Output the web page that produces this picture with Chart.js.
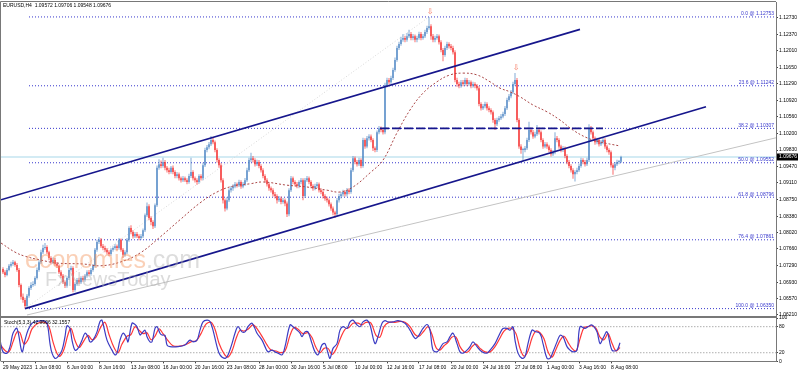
<!DOCTYPE html>
<html>
<head>
<meta charset="utf-8">
<script src="https://cdn.jsdelivr.net/npm/chart.js@4.4.0/dist/chart.umd.min.js"></script>
<style>
  html, body { margin: 0; padding: 0; background: #fff; }
  #wrap { position: relative; width: 798px; height: 372px; overflow: hidden; font-family: "Liberation Sans", Arial, sans-serif; }
  canvas { position: absolute; left: 0; }
  #mainChart { top: 0; }
  #stochChart { top: 310px; }
  .tiny { position: absolute; font-size: 10px; line-height: 10px; color: #000; white-space: pre; transform: scale(0.5); transform-origin: 0 0; }
  .wm { position: absolute; white-space: pre; pointer-events: none; }
</style>
</head>
<body>
<div id="wrap">
  <canvas id="mainChart" width="798" height="318"></canvas>
  <canvas id="stochChart" width="798" height="62"></canvas>
  <div class="tiny" id="header" style="left:3px;top:3px;">EURUSD,H4  1.09572 1.09706 1.09548 1.09676</div>
  <div class="tiny" id="stochTitle" style="left:4px;top:320px;">Stoch(5,3,3) 42.9606 32.1557</div>
  <div class="wm" style="left:25px;top:247px;font-size:25px;line-height:25px;"><span style="color:rgba(245,150,95,0.45)">economies</span><span style="color:rgba(180,180,180,0.45)">.com</span></div>
  <div class="wm" style="left:45px;top:269px;font-size:20px;line-height:20px;color:rgba(175,175,175,0.45)">FxNewsToday</div>
</div>
<script>
// ================= DATA =================
// EURUSD H4 candles, 29 May 2023 -> 9 Aug 2023 (open = previous close)
const firstOpen = 1.0722;

const closes = [
  1.0715, 1.0709, 1.0720, 1.0729, 1.0733, 1.0737, 1.0731, 1.0720, 1.0687, 1.0661,
  1.0654, 1.0641, 1.0663, 1.0680, 1.0687, 1.0689, 1.0702, 1.0720, 1.0737, 1.0759,
  1.0768, 1.0770, 1.0759, 1.0746, 1.0737, 1.0742, 1.0733, 1.0729, 1.0715, 1.0707,
  1.0693, 1.0685, 1.0702, 1.0720, 1.0724, 1.0676, 1.0689, 1.0698, 1.0693, 1.0702,
  1.0698, 1.0707, 1.0715, 1.0711, 1.0720, 1.0729, 1.0764, 1.0781, 1.0786, 1.0772,
  1.0768, 1.0764, 1.0759, 1.0755, 1.0764, 1.0768, 1.0772, 1.0768, 1.0786, 1.0764,
  1.0753, 1.0759, 1.0786, 1.0812, 1.0803, 1.0794, 1.0799, 1.0794, 1.0790, 1.0794,
  1.0807, 1.0840, 1.0860, 1.0834, 1.0825, 1.0816, 1.0862, 1.0944, 1.0952, 1.0948,
  1.0957, 1.0944, 1.0939, 1.0935, 1.0944, 1.0935, 1.0926, 1.0930, 1.0921, 1.0917,
  1.0921, 1.0917, 1.0913, 1.0926, 1.0935, 1.0921, 1.0917, 1.0913, 1.0926, 1.0921,
  1.0950, 1.0983, 1.0989, 1.0996, 1.1005, 1.1000, 1.0983, 1.0961, 1.0950, 1.0917,
  1.0873, 1.0855, 1.0873, 1.0895, 1.0899, 1.0903, 1.0908, 1.0906, 1.0913, 1.0903,
  1.0908, 1.0917, 1.0939, 1.0961, 1.0965, 1.0961, 1.0952, 1.0957, 1.0948, 1.0939,
  1.0926, 1.0917, 1.0908, 1.0899, 1.0895, 1.0886, 1.0882, 1.0873, 1.0877, 1.0869,
  1.0873, 1.0866, 1.0842, 1.0895, 1.0921, 1.0913, 1.0908, 1.0904, 1.0913, 1.0917,
  1.0882, 1.0917, 1.0921, 1.0913, 1.0904, 1.0899, 1.0904, 1.0908, 1.0895, 1.0891,
  1.0882, 1.0877, 1.0873, 1.0864, 1.0855, 1.0846, 1.0842, 1.0873, 1.0882, 1.0886,
  1.0891, 1.0886, 1.0895, 1.0891, 1.0939, 1.0965, 1.0957, 1.0952, 1.0961, 1.0948,
  1.1005, 1.0991, 1.1009, 1.1013, 1.1005, 1.0987, 1.0983, 1.1022, 1.1031, 1.1027,
  1.1022, 1.1126, 1.1137, 1.1132, 1.1141, 1.1159, 1.1181, 1.1207, 1.1216, 1.1225,
  1.1229, 1.1225, 1.1233, 1.1238, 1.1229, 1.1233, 1.1225, 1.1229, 1.1238, 1.1229,
  1.1233, 1.1242, 1.1251, 1.1255, 1.1233, 1.1225, 1.1229, 1.1233, 1.1220, 1.1203,
  1.1192, 1.1207, 1.1216, 1.1211, 1.1207, 1.1198, 1.1137, 1.1128, 1.1124, 1.1132,
  1.1128, 1.1137, 1.1128, 1.1132, 1.1124, 1.1128, 1.1124, 1.1119, 1.1084, 1.1075,
  1.1079, 1.1084, 1.1075, 1.1071, 1.1066, 1.1049, 1.1040, 1.1049, 1.1053, 1.1057,
  1.1062, 1.1075, 1.1093, 1.1101, 1.1110, 1.1128, 1.1137, 1.1049, 1.0991, 1.0983,
  1.0983, 1.0987, 1.1005, 1.1027, 1.1022, 1.1013, 1.1018, 1.1027, 1.1022, 1.1005,
  1.0991, 1.0996, 1.0991, 1.0983, 1.0974, 1.0978, 1.1009, 1.1005, 1.0991, 1.0983,
  1.0987, 1.0970, 1.0957, 1.0948, 1.0939, 1.0930, 1.0935, 1.0939, 1.0948, 1.0961,
  1.0957, 1.0952, 1.0961, 1.1031, 1.1022, 1.1009, 1.1000, 1.1005, 1.0996, 1.1000,
  1.1005, 1.0991, 1.0983, 1.0978, 1.0950, 1.0944, 1.0952, 1.0957, 1.09572, 1.09676
];

const highs = [
  1.0726, 1.0719, 1.0724, 1.0733, 1.0738, 1.0742, 1.0740, 1.0735, 1.0724, 1.0690,
  1.0668, 1.0659, 1.0667, 1.0684, 1.0693, 1.0695, 1.0706, 1.0725, 1.0741, 1.0764,
  1.0775, 1.0779, 1.0774, 1.0762, 1.0750, 1.0747, 1.0746, 1.0737, 1.0732, 1.0719,
  1.0711, 1.0697, 1.0706, 1.0724, 1.0729, 1.0728, 1.0693, 1.0702, 1.0703, 1.0706,
  1.0707, 1.0711, 1.0719, 1.0720, 1.0724, 1.0733, 1.0768, 1.0786, 1.0792, 1.0790,
  1.0777, 1.0773, 1.0768, 1.0763, 1.0768, 1.0772, 1.0777, 1.0776, 1.0790, 1.0789,
  1.0768, 1.0763, 1.0790, 1.0816, 1.0818, 1.0807, 1.0803, 1.0803, 1.0798, 1.0799,
  1.0811, 1.0844, 1.0868, 1.0864, 1.0838, 1.0829, 1.0866, 1.0949, 1.0963, 1.0960,
  1.0966, 1.0961, 1.0948, 1.0944, 1.0948, 1.0949, 1.0939, 1.0935, 1.0934, 1.0925,
  1.0926, 1.0925, 1.0921, 1.0931, 1.0966, 1.0939, 1.0925, 1.0921, 1.0930, 1.0930,
  1.0955, 1.0988, 1.0994, 1.1001, 1.1014, 1.1012, 1.1004, 1.0987, 1.0965, 1.0954,
  1.0921, 1.0877, 1.0880, 1.0899, 1.0904, 1.0908, 1.0913, 1.0912, 1.0918, 1.0917,
  1.0913, 1.0922, 1.0944, 1.0966, 1.0977, 1.0970, 1.0965, 1.0962, 1.0961, 1.0952,
  1.0943, 1.0930, 1.0921, 1.0912, 1.0903, 1.0899, 1.0891, 1.0886, 1.0882, 1.0881,
  1.0878, 1.0877, 1.0870, 1.0899, 1.0926, 1.0925, 1.0917, 1.0913, 1.0917, 1.0922,
  1.0921, 1.0922, 1.0926, 1.0925, 1.0917, 1.0908, 1.0909, 1.0913, 1.0912, 1.0899,
  1.0895, 1.0886, 1.0881, 1.0877, 1.0868, 1.0859, 1.0850, 1.0878, 1.0887, 1.0891,
  1.0896, 1.0895, 1.0900, 1.0899, 1.0944, 1.0970, 1.0969, 1.0961, 1.0966, 1.0965,
  1.1010, 1.1009, 1.1014, 1.1018, 1.1017, 1.1009, 1.0991, 1.1026, 1.1036, 1.1035,
  1.1031, 1.1131, 1.1142, 1.1141, 1.1146, 1.1164, 1.1186, 1.1212, 1.1221, 1.1232,
  1.1238, 1.1234, 1.1240, 1.1247, 1.1242, 1.1238, 1.1237, 1.1234, 1.1243, 1.1242,
  1.1238, 1.1247, 1.1256, 1.12753, 1.1259, 1.1238, 1.1234, 1.1238, 1.1237, 1.1224,
  1.1207, 1.1212, 1.1221, 1.1220, 1.1216, 1.1212, 1.1202, 1.1142, 1.1133, 1.1137,
  1.1137, 1.1142, 1.1141, 1.1137, 1.1136, 1.1133, 1.1132, 1.1128, 1.1123, 1.1088,
  1.1084, 1.1089, 1.1088, 1.1079, 1.1075, 1.1070, 1.1053, 1.1054, 1.1058, 1.1062,
  1.1067, 1.1080, 1.1098, 1.1106, 1.1115, 1.1133, 1.1152, 1.1141, 1.1053, 1.0996,
  1.0988, 1.0992, 1.1010, 1.1045, 1.1032, 1.1027, 1.1023, 1.1038, 1.1032, 1.1026,
  1.1009, 1.1001, 1.1000, 1.0995, 1.0987, 1.0983, 1.1022, 1.1014, 1.1009, 1.0995,
  1.0992, 1.0991, 1.0974, 1.0961, 1.0952, 1.0943, 1.0939, 1.0944, 1.0953, 1.0966,
  1.0965, 1.0961, 1.0966, 1.1040, 1.1036, 1.1026, 1.1013, 1.1010, 1.1009, 1.1005,
  1.1010, 1.1009, 1.0995, 1.0987, 1.0982, 1.0954, 1.0957, 1.0962, 1.0961, 1.09706
];

const lows = [
  1.0711, 1.0704, 1.0706, 1.0717, 1.0725, 1.0729, 1.0727, 1.0716, 1.0682, 1.0655,
  1.0648, 1.0635, 1.0638, 1.0659, 1.0676, 1.0683, 1.0685, 1.0699, 1.0716, 1.0733,
  1.0755, 1.0764, 1.0755, 1.0741, 1.0732, 1.0733, 1.0729, 1.0724, 1.0711, 1.0702,
  1.0689, 1.0680, 1.0681, 1.0698, 1.0716, 1.0671, 1.0672, 1.0685, 1.0689, 1.0689,
  1.0694, 1.0694, 1.0703, 1.0707, 1.0707, 1.0716, 1.0725, 1.0760, 1.0777, 1.0768,
  1.0763, 1.0759, 1.0754, 1.0750, 1.0751, 1.0760, 1.0764, 1.0763, 1.0764, 1.0760,
  1.0746, 1.0749, 1.0755, 1.0782, 1.0798, 1.0789, 1.0790, 1.0790, 1.0785, 1.0786,
  1.0790, 1.0803, 1.0836, 1.0829, 1.0818, 1.0810, 1.0812, 1.0858, 1.0940, 1.0943,
  1.0944, 1.0939, 1.0934, 1.0930, 1.0931, 1.0930, 1.0921, 1.0921, 1.0916, 1.0912,
  1.0913, 1.0913, 1.0908, 1.0909, 1.0922, 1.0916, 1.0912, 1.0907, 1.0909, 1.0916,
  1.0917, 1.0946, 1.0978, 1.0985, 1.0992, 1.0996, 1.0978, 1.0956, 1.0944, 1.0912,
  1.0866, 1.0848, 1.0851, 1.0869, 1.0890, 1.0894, 1.0899, 1.0901, 1.0902, 1.0898,
  1.0899, 1.0904, 1.0913, 1.0935, 1.0957, 1.0956, 1.0947, 1.0948, 1.0943, 1.0934,
  1.0921, 1.0912, 1.0903, 1.0894, 1.0890, 1.0881, 1.0877, 1.0866, 1.0869, 1.0864,
  1.0865, 1.0860, 1.0836, 1.0838, 1.0891, 1.0908, 1.0903, 1.0899, 1.0899, 1.0908,
  1.0873, 1.0878, 1.0913, 1.0908, 1.0899, 1.0894, 1.0895, 1.0899, 1.0890, 1.0886,
  1.0877, 1.0872, 1.0868, 1.0859, 1.0850, 1.0840, 1.0834, 1.0838, 1.0868, 1.0877,
  1.0881, 1.0881, 1.0881, 1.0886, 1.0887, 1.0935, 1.0952, 1.0947, 1.0948, 1.0943,
  1.0944, 1.0986, 1.0987, 1.1004, 1.1000, 1.0981, 1.0978, 1.0979, 1.1018, 1.1022,
  1.1017, 1.1018, 1.1121, 1.1127, 1.1128, 1.1137, 1.1155, 1.1177, 1.1203, 1.1212,
  1.1221, 1.1220, 1.1221, 1.1229, 1.1224, 1.1224, 1.1220, 1.1220, 1.1225, 1.1224,
  1.1225, 1.1229, 1.1238, 1.1247, 1.1225, 1.1220, 1.1220, 1.1225, 1.1215, 1.1198,
  1.1178, 1.1188, 1.1203, 1.1206, 1.1202, 1.1193, 1.1132, 1.1122, 1.1119, 1.1120,
  1.1123, 1.1124, 1.1123, 1.1124, 1.1119, 1.1120, 1.1119, 1.1114, 1.1079, 1.1070,
  1.1071, 1.1075, 1.1070, 1.1066, 1.1061, 1.1043, 1.1027, 1.1036, 1.1045, 1.1049,
  1.1053, 1.1058, 1.1071, 1.1089, 1.1097, 1.1106, 1.1124, 1.1044, 1.0986, 1.0975,
  1.0959, 1.0978, 1.0983, 1.1001, 1.1017, 1.1008, 1.1009, 1.1014, 1.1017, 1.1000,
  1.0986, 1.0987, 1.0986, 1.0978, 1.0969, 1.0970, 1.0974, 1.1000, 1.0986, 1.0978,
  1.0979, 1.0965, 1.0952, 1.0943, 1.0934, 1.0920, 1.0914, 1.0930, 1.0935, 1.0944,
  1.0952, 1.0947, 1.0948, 1.0957, 1.1017, 1.1004, 1.0995, 1.0996, 1.0991, 1.0992,
  1.0996, 1.0986, 1.0978, 1.0973, 1.0945, 1.0929, 1.0939, 1.0948, 1.0952, 1.09548
];

// dotted moving average (bar index / value)
const maBars = [
  -1, 6, 11, 18.5, 27, 40, 48.5, 58.5, 68.5, 78.5,
  88.5, 98.5, 107, 115, 123.5, 130, 142, 152, 162, 168.5,
  175, 183.5, 190, 197, 203.5, 210, 217, 223.5, 230, 237,
  243.5, 248.5, 253.5, 258.5, 265, 272, 278.5, 285, 292, 298.5,
  308.5
];
const maValues = [
  1.0779, 1.0759, 1.0750, 1.0742, 1.0735, 1.0733, 1.0729, 1.0737, 1.0757, 1.0792,
  1.0830, 1.0867, 1.0891, 1.0904, 1.0909, 1.0913, 1.0906, 1.0902, 1.0895, 1.0891,
  1.0902, 1.0933, 1.0961, 1.1021, 1.1071, 1.1108, 1.1133, 1.1148, 1.1152, 1.1148,
  1.1133, 1.1119, 1.1111, 1.1100, 1.1082, 1.1067, 1.1049, 1.1027, 1.1010, 1.1001,
  1.0992
];

// fibonacci retracement
const fibPct = ['0.0', '23.6', '38.2', '50.0', '61.8', '76.4', '100.0'];
const fibPrice = [1.12753, 1.11242, 1.10307, 1.09552, 1.08796, 1.07861, 1.06350];
const fibStartBar = 13;

// drawn lines: [startBar, endBar] / [startPrice, endPrice]
const upperChannelBars = [-1, 288.5],  upperChannelPrices = [1.0874, 1.1248];
const lowerChannelBars = [11, 351.5],  lowerChannelPrices = [1.0635, 1.1078];
const supportBars = [12, 386.5],       supportPrices = [1.0621, 1.1010];
const fibDiagBars = [11, 213],         fibDiagPrices = [1.0635, 1.12753];
const resistBars = [188.5, 300],       resistPrice = 1.10307;

// swing high markers
const peakBars = [213, 256];

// stochastic (5,3,3)
const kBars = [
  -1.5, 0, 2, 3.5, 5, 7, 9.5, 11, 12.5, 14.5,
  17, 20, 22, 23.5, 24.5, 26, 27.5, 29.5, 31, 32,
  33.5, 34.5, 36, 37.5, 39.5, 41, 42.5, 43.5, 45, 47,
  48.5, 49.5, 52, 54.5, 56, 57, 58.5, 60, 61.5, 62.5,
  64.5, 66, 67, 68.5, 69.5, 71, 72, 73.5, 74.5, 76,
  77, 78.5, 79.5, 81, 82, 83.5, 87.5, 91, 93.5, 95,
  97, 98.5, 100, 102, 103.5, 105, 107, 108.5, 111, 112.5,
  114.5, 116, 117.5, 119.5, 121, 122.5, 124.5, 127, 129.5, 131,
  132.5, 134.5, 136, 137.5, 139.5, 141, 143.5, 145, 147, 148.5,
  149.5, 151, 152.5, 154.5, 156, 157.5, 159.5, 161, 162.5, 163.5,
  165, 167, 168.5, 170, 172, 173.5, 175, 177, 178.5, 180,
  182, 183.5, 186, 187.5, 189.5, 191, 192.5, 195, 197.5, 201,
  203.5, 206, 207.5, 210, 212, 213.5, 215, 217, 218.5, 220,
  222, 223.5, 225, 227, 228.5, 230, 232, 233.5, 235, 237,
  239.5, 242, 243.5, 246, 248.5, 250, 252, 253.5, 255, 256,
  257.5, 259.5, 261, 262.5, 264.5, 266, 268.5, 270, 272, 273.5,
  275, 277, 278.5, 280, 282, 283.5, 285, 287, 288.5, 291,
  292.5, 294.5, 297, 298.5, 300, 302, 304.5, 307, 308.5
];
const kValues = [
  49, 22, 19, 34, 65, 76, 22, 49, 72, 88,
  92, 94, 88, 41, 19, 7, 11, 26, 57, 82,
  76, 49, 26, 30, 49, 65, 57, 45, 49, 68,
  92, 95, 49, 26, 15, 19, 49, 65, 57, 45,
  88, 85, 80, 61, 65, 72, 57, 45, 45, 76,
  80, 65, 61, 60, 38, 34, 34, 38, 49, 45,
  49, 72, 91, 95, 92, 72, 34, 15, 7, 15,
  41, 65, 80, 68, 68, 80, 88, 65, 49, 34,
  22, 26, 22, 19, 15, 34, 84, 80, 72, 65,
  57, 68, 68, 41, 22, 15, 38, 41, 19, 7,
  30, 41, 72, 80, 76, 91, 95, 84, 80, 91,
  95, 84, 41, 57, 88, 94, 91, 91, 94, 88,
  72, 53, 57, 76, 85, 72, 26, 22, 30, 41,
  45, 57, 65, 41, 22, 19, 26, 34, 45, 34,
  22, 19, 26, 41, 65, 76, 76, 72, 80, 49,
  19, 7, 11, 41, 72, 69, 64, 41, 7, 7,
  22, 45, 60, 57, 34, 26, 22, 26, 80, 76,
  80, 84, 68, 41, 53, 68, 26, 26, 43
];
const dBars = [
  -1.5, 1, 3, 5, 7, 8.5, 10.5, 12.5, 14.5, 17.5,
  21, 23, 25, 27, 28.5, 30.5, 32.5, 34, 36, 38,
  40.5, 42.5, 44.5, 46.5, 49, 51, 53, 55.5, 57.5, 59.5,
  62, 64, 66, 68, 70, 72, 74, 76, 78, 80,
  82.5, 85, 88.5, 92, 94.5, 96.5, 99, 101.5, 104, 106,
  108, 110.5, 112.5, 114.5, 116.5, 118.5, 120.5, 122.5, 125, 127.5,
  130, 132, 134, 136.5, 138.5, 141, 143.5, 145.5, 147.5, 150,
  152.5, 154.5, 156.5, 158.5, 160.5, 162.5, 164.5, 166.5, 169, 171,
  173, 175, 177.5, 179.5, 181.5, 184, 186.5, 188.5, 190.5, 193,
  196, 198.5, 201, 203.5, 206, 208, 210.5, 212.5, 214.5, 216.5,
  218.5, 220.5, 222.5, 224.5, 226.5, 228.5, 230.5, 232.5, 234.5, 236.5,
  238.5, 241, 243.5, 246, 248.5, 250.5, 252.5, 254.5, 256.5, 258.5,
  260.5, 262.5, 264.5, 266.5, 268.5, 270.5, 272.5, 274.5, 276.5, 278.5,
  280.5, 282.5, 284.5, 286.5, 288.5, 290.5, 292.5, 294.5, 296.5, 298.5,
  300.5, 302.5, 304.5, 306.5, 308.5
];
const dValues = [
  40, 25, 22, 45, 68, 66, 40, 50, 75, 88,
  90, 80, 45, 18, 12, 28, 62, 76, 48, 32,
  48, 60, 50, 56, 80, 90, 62, 32, 20, 40,
  58, 62, 80, 72, 64, 66, 50, 58, 75, 64,
  48, 36, 35, 40, 46, 47, 64, 86, 90, 74,
  42, 18, 10, 24, 52, 72, 70, 74, 84, 72,
  54, 38, 26, 24, 20, 24, 60, 78, 74, 64,
  66, 55, 32, 20, 30, 30, 16, 28, 56, 74,
  78, 88, 88, 84, 90, 88, 60, 56, 80, 90,
  90, 92, 90, 80, 62, 58, 70, 80, 62, 32,
  26, 36, 44, 56, 56, 34, 22, 22, 34, 40,
  30, 22, 22, 34, 54, 70, 76, 76, 64, 30,
  12, 24, 54, 70, 66, 52, 22, 10, 28, 48,
  58, 44, 30, 24, 52, 78, 80, 82, 76, 56,
  50, 64, 42, 24, 32
];
const stochLevels = [20, 80];
const stochTicks = [0, 20, 80, 100];

// axes
const priceTicks = [1.12730, 1.12370, 1.12010, 1.11650, 1.11290, 1.10920, 1.10560, 1.10200, 1.09830, 1.09470,
                    1.09110, 1.08750, 1.08380, 1.08020, 1.07660, 1.07290, 1.06930, 1.06570, 1.06210];
const timeTickBars = [0, 16, 32, 48, 64, 80, 96, 112, 128, 144, 160, 176, 192, 208, 224, 240, 256, 272, 288, 304];
const timeLabels = ['29 May 2023', '1 Jun 08:00', '6 Jun 00:00', '8 Jun 16:00', '13 Jun 08:00', '16 Jun 00:00',
                    '20 Jun 16:00', '23 Jun 08:00', '28 Jun 00:00', '30 Jun 16:00', '5 Jul 08:00', '10 Jul 00:00',
                    '12 Jul 16:00', '17 Jul 08:00', '20 Jul 00:00', '24 Jul 16:00', '27 Jul 08:00', '1 Aug 00:00',
                    '3 Aug 16:00', '8 Aug 08:00'];

// ================= SETUP =================
if (highs.length !== closes.length || lows.length !== closes.length) throw new Error('candle arrays ' + closes.length + '/' + highs.length + '/' + lows.length);
if (kBars.length !== kValues.length || dBars.length !== dValues.length || maBars.length !== maValues.length) throw new Error('series length mismatch');

const X_MIN = -1, X_MAX = 386.5;
const Y_MIN = 1.06188, Y_MAX = 1.13081;
const BULL = 'rgb(78,134,196)';
const BEAR = 'rgb(245,45,45)';
const FIB_BLUE = 'rgb(55,55,205)';
const NAVY = 'rgb(22,22,140)';
const FRAME = 'rgb(120,120,120)';
const FONT = '"Liberation Sans", Arial, sans-serif';
const lastClose = closes[closes.length - 1];

Chart.defaults.font.family = FONT;
Chart.defaults.font.size = 5;
Chart.defaults.color = '#000';
Chart.defaults.animation = false;

const opens = closes.map((c, i) => i === 0 ? firstOpen : closes[i - 1]);
const colors = closes.map((c, i) => c >= opens[i] ? BULL : BEAR);
const pairs = (xs, ys) => xs.map((x, i) => ({ x: x, y: Array.isArray(ys) ? ys[i] : ys }));

function lineDs(pts, color, width, dash, order, tension) {
  return {
    type: 'line', data: pts, borderColor: color, borderWidth: width, borderDash: dash || [],
    pointRadius: 0, fill: false, tension: tension || 0, order: order
  };
}

function noPad(s) { s.paddingTop = 0; s.paddingBottom = 0; s.paddingLeft = 0; s.paddingRight = 0; }

// ================= MAIN CHART =================
const mainDatasets = [];
fibPrice.forEach(p => mainDatasets.push(lineDs(pairs([fibStartBar, X_MAX], p), FIB_BLUE, 1, [1, 2], 20)));
mainDatasets.push(lineDs(pairs([X_MIN, X_MAX], lastClose), 'rgb(196,229,240)', 1.5, [], 19));
mainDatasets.push(lineDs(pairs(supportBars, supportPrices), 'rgb(195,195,195)', 1, [], 18));
mainDatasets.push(lineDs(pairs(fibDiagBars, fibDiagPrices), 'rgb(215,215,215)', 1, [1, 2], 18));
mainDatasets.push({
  type: 'bar', data: closes.map((c, i) => ({ x: i, y: [lows[i], highs[i]] })),
  backgroundColor: colors, borderWidth: 0, barThickness: 0.7, grouped: false, inflateAmount: 0, order: 10
});
mainDatasets.push({
  type: 'bar', data: closes.map((c, i) => ({ x: i, y: [Math.min(opens[i], c), Math.max(opens[i], c)] })),
  backgroundColor: colors, borderWidth: 0, barThickness: 1.3, grouped: false, inflateAmount: 0, minBarLength: 1, order: 9
});
mainDatasets.push(lineDs(pairs(maBars, maValues), 'rgb(170,70,70)', 1, [2, 2], 5, 0.4));
mainDatasets.push(lineDs(pairs(upperChannelBars, upperChannelPrices), NAVY, 1.6, [], 2));
mainDatasets.push(lineDs(pairs(lowerChannelBars, lowerChannelPrices), NAVY, 1.6, [], 2));
mainDatasets.push(lineDs(pairs(resistBars, resistPrice), NAVY, 1.6, [9, 3], 2));

const mainDecor = {
  id: 'mainDecor',
  afterDraw(chart) {
    const { ctx, chartArea: a, scales: { x, y } } = chart;
    ctx.save();
    // frame
    ctx.strokeStyle = FRAME; ctx.lineWidth = 1;
    ctx.beginPath();
    ctx.moveTo(0.5, a.bottom); ctx.lineTo(0.5, 1.5); ctx.lineTo(a.right, 1.5);
    ctx.stroke();
    ctx.fillStyle = FRAME;
    ctx.fillRect(0, a.bottom, a.right + 1, 2);
    // fibo level captions
    ctx.font = '5px ' + FONT;
    ctx.fillStyle = FIB_BLUE; ctx.textAlign = 'right'; ctx.textBaseline = 'bottom';
    fibPct.forEach((p, k) => ctx.fillText(p + ' @ ' + fibPrice[k].toFixed(5), a.right - 2, y.getPixelForValue(fibPrice[k]) - 0.5));
    // swing high arrows
    ctx.font = '8px "DejaVu Sans"'; ctx.fillStyle = 'rgb(245,115,90)';
    ctx.textAlign = 'center'; ctx.textBaseline = 'bottom';
    peakBars.forEach(b => ctx.fillText('\u21E9', x.getPixelForValue(b) + 1, y.getPixelForValue(highs[b]) - 1));
    // last price box
    const yp = y.getPixelForValue(lastClose);
    ctx.fillStyle = '#000';
    ctx.fillRect(a.right + 1, Math.round(yp) - 3.5, chart.width - a.right - 1, 7);
    ctx.fillStyle = '#fff'; ctx.font = '5px ' + FONT;
    ctx.textAlign = 'left'; ctx.textBaseline = 'middle';
    ctx.fillText(lastClose.toFixed(5), a.right + 3, Math.round(yp));
    ctx.restore();
  }
};

new Chart(document.getElementById('mainChart'), {
  type: 'bar',
  data: { datasets: mainDatasets },
  options: {
    responsive: false, devicePixelRatio: 1, events: [],
    layout: { padding: { left: 1, top: 2, right: 0, bottom: 2 } },
    plugins: { legend: { display: false }, tooltip: { enabled: false } },
    scales: {
      x: { type: 'linear', min: X_MIN, max: X_MAX, display: false, offset: false },
      y: {
        position: 'right', min: Y_MIN, max: Y_MAX,
        afterBuildTicks: s => { s.ticks = priceTicks.map(v => ({ value: v })); },
        afterFit: s => { s.width = 22; noPad(s); },
        ticks: { callback: v => v.toFixed(5), padding: 1, autoSkip: false, font: { size: 5 }, color: '#000' },
        grid: { drawOnChartArea: false, tickLength: 2, color: '#444' },
        border: { color: FRAME, width: 1 }
      }
    }
  },
  plugins: [mainDecor]
});

// ================= STOCHASTIC =================
const stochDecor = {
  id: 'stochDecor',
  afterDraw(chart) {
    const { ctx, chartArea: a } = chart;
    ctx.save();
    ctx.strokeStyle = FRAME; ctx.lineWidth = 1;
    ctx.beginPath();
    ctx.moveTo(0.5, a.bottom); ctx.lineTo(0.5, a.top);
    ctx.stroke();
    ctx.restore();
  }
};

const stochDatasets = stochLevels.map(v => lineDs(pairs([X_MIN, X_MAX], v), 'rgb(175,175,175)', 1, [1.5, 1.5], 5));
stochDatasets.push(lineDs(pairs(dBars, dValues), 'rgb(255,55,55)', 1.2, [], 2, 0.35));
stochDatasets.push(lineDs(pairs(kBars, kValues), 'rgb(60,60,195)', 1.2, [], 1, 0.35));

new Chart(document.getElementById('stochChart'), {
  type: 'line',
  data: { datasets: stochDatasets },
  options: {
    responsive: false, devicePixelRatio: 1, events: [],
    layout: { padding: { left: 1, top: 8, right: 0, bottom: 0 } },
    plugins: { legend: { display: false }, tooltip: { enabled: false } },
    scales: {
      x: {
        type: 'linear', min: X_MIN, max: X_MAX, position: 'bottom',
        afterBuildTicks: s => { s.ticks = timeTickBars.map(v => ({ value: v })); },
        afterFit: s => { s.height = 10.6; noPad(s); },
        ticks: { callback: (v, i) => timeLabels[i], align: 'start', maxRotation: 0, autoSkip: false, padding: 1, font: { size: 5 }, color: '#000' },
        grid: { drawOnChartArea: false, tickLength: 2, color: '#444' },
        border: { color: FRAME, width: 1 }
      },
      y: {
        position: 'right', min: 0, max: 100,
        afterBuildTicks: s => { s.ticks = stochTicks.map(v => ({ value: v })); },
        afterFit: s => { s.width = 22; noPad(s); },
        ticks: { padding: 1, autoSkip: false, font: { size: 5 }, color: '#000' },
        grid: { drawOnChartArea: false, tickLength: 2, color: '#444' },
        border: { color: FRAME, width: 1 }
      }
    }
  },
  plugins: [stochDecor]
});
</script>
</body>
</html>
